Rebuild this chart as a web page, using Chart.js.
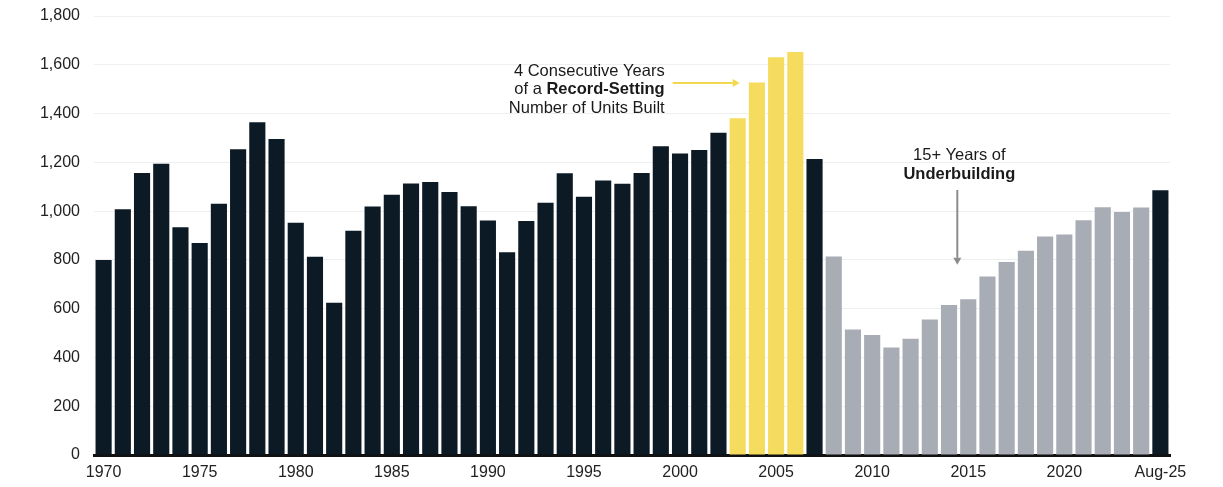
<!DOCTYPE html>
<html>
<head>
<meta charset="utf-8">
<script src="https://cdn.jsdelivr.net/npm/chart.js@4/dist/chart.umd.min.js"></script>
<style>
    html, body { margin: 0; padding: 0; background: #ffffff; }
    #wrap { position: relative; width: 1223px; height: 487px; }
</style>
</head>
<body>
<div id="wrap"><canvas id="chart"></canvas></div>
<script>
// Units built per year (thousands)
const categories = [
    '1970', '1971', '1972', '1973', '1974', '1975', '1976', '1977', '1978', '1979',
    '1980', '1981', '1982', '1983', '1984', '1985', '1986', '1987', '1988', '1989',
    '1990', '1991', '1992', '1993', '1994', '1995', '1996', '1997', '1998', '1999',
    '2000', '2001', '2002', '2003', '2004', '2005', '2006', '2007', '2008', '2009',
    '2010', '2011', '2012', '2013', '2014', '2015', '2016', '2017', '2018', '2019',
    '2020', '2021', '2022', '2023', '2024', 'Aug-25'
];
const unitsBuilt = [
    800, 1008, 1156, 1194, 934, 869, 1030, 1254, 1364, 1296,
    952, 813, 624, 919, 1019, 1067, 1113, 1119, 1078, 1020,
    962, 831, 959, 1034, 1155, 1059, 1126, 1112, 1156, 1266,
    1236, 1251, 1321, 1381, 1527, 1631, 1652, 1214, 814, 515,
    492, 441, 477, 556, 615, 639, 732, 791, 837, 896,
    904, 963, 1016, 996, 1015, 1086
];
const recordYears = ['2003', '2004', '2005', '2006'];
const underbuildYears = [
    '2008', '2009', '2010', '2011', '2012', '2013', '2014', '2015', '2016',
    '2017', '2018', '2019', '2020', '2021', '2022', '2023', '2024'
];
const yTicks = [0, 200, 400, 600, 800, 1000, 1200, 1400, 1600, 1800];

const DARK = '#0c1a25';
const YELLOW = '#f6dc5e';
const GREY = '#a8acb4';
const FONT = '"Liberation Sans", Arial, sans-serif';

function barColor(label) {
    if (recordYears.indexOf(label) !== -1) return YELLOW;
    if (underbuildYears.indexOf(label) !== -1) return GREY;
    return DARK;
}

function arrow(ctx, x1, y1, x2, y2, color) {
    const ang = Math.atan2(y2 - y1, x2 - x1);
    const head = 7;
    ctx.save();
    ctx.strokeStyle = color;
    ctx.fillStyle = color;
    ctx.lineWidth = 2;
    ctx.beginPath();
    ctx.moveTo(x1, y1);
    ctx.lineTo(x2 - Math.cos(ang) * head, y2 - Math.sin(ang) * head);
    ctx.stroke();
    ctx.beginPath();
    ctx.moveTo(x2, y2);
    ctx.lineTo(x2 - head * Math.cos(ang) + 4 * Math.sin(ang), y2 - head * Math.sin(ang) - 4 * Math.cos(ang));
    ctx.lineTo(x2 - head * Math.cos(ang) - 4 * Math.sin(ang), y2 - head * Math.sin(ang) + 4 * Math.cos(ang));
    ctx.closePath();
    ctx.fill();
    ctx.restore();
}

const annotations = {
    id: 'annotations',
    afterDraw: function (chart) {
        const ctx = chart.ctx;
        const x = chart.scales.x;
        const y = chart.scales.y;
        const step = x.getPixelForValue(1) - x.getPixelForValue(0);

        // record-setting note
        const recX = x.getPixelForValue(categories.indexOf('2003'));
        const textRight = recX - 73;
        const y0 = y.getPixelForValue(1574);
        ctx.save();
        ctx.fillStyle = '#1a1a1a';
        ctx.textAlign = 'right';
        ctx.textBaseline = 'middle';
        ctx.font = '16.5px ' + FONT;
        ctx.fillText('4 Consecutive Years', textRight, y0);
        const boldPart = 'Record-Setting';
        ctx.font = 'bold 16.5px ' + FONT;
        const bw = ctx.measureText(boldPart).width;
        ctx.fillText(boldPart, textRight, y0 + 18.5);
        ctx.font = '16.5px ' + FONT;
        ctx.fillText('of a ', textRight - bw, y0 + 18.5);
        ctx.fillText('Number of Units Built', textRight, y0 + 37);
        ctx.restore();
        arrow(ctx, textRight + 8, y0 + 12, recX + 2, y0 + 12, '#f2d84c');

        // underbuilding note
        const ubX = x.getPixelForValue(categories.indexOf('2014')) + step * 0.43;
        const y1 = y.getPixelForValue(1230);
        ctx.save();
        ctx.fillStyle = '#1a1a1a';
        ctx.textAlign = 'center';
        ctx.textBaseline = 'middle';
        ctx.font = '16.5px ' + FONT;
        ctx.fillText('15+ Years of', ubX + 2, y1);
        ctx.font = 'bold 16.5px ' + FONT;
        ctx.fillText('Underbuilding', ubX + 2, y1 + 19);
        ctx.restore();
        arrow(ctx, ubX, y1 + 35, ubX, y.getPixelForValue(780), '#8c8c8c');
    }
};

new Chart(document.getElementById('chart'), {
    type: 'bar',
    data: {
        labels: categories,
        datasets: [{
            data: unitsBuilt,
            backgroundColor: categories.map(barColor),
            borderWidth: 0,
            categoryPercentage: 1,
            barPercentage: 0.84
        }]
    },
    options: {
        responsive: true,
        maintainAspectRatio: false,
        animation: false,
        layout: {
            padding: { top: 16, right: 53, bottom: 0, left: 0 }
        },
        plugins: {
            legend: { display: false },
            tooltip: { enabled: false }
        },
        scales: {
            x: {
                grid: { display: false, drawTicks: false },
                border: { color: '#111111', width: 3 },
                afterFit: function (scale) { scale.height = 32; },
                ticks: {
                    autoSkip: false,
                    maxRotation: 0,
                    padding: 8,
                    color: '#222222',
                    font: { family: FONT, size: 16 },
                    callback: function (value, index) {
                        const label = categories[index];
                        if (index === categories.length - 1) return label;
                        return Number(label) % 5 === 0 ? label : '';
                    }
                }
            },
            y: {
                min: 0,
                max: 1800,
                afterFit: function (scale) {
                    scale.width = 94;
                    scale.paddingTop = 0;
                    scale.paddingBottom = 0;
                },
                afterBuildTicks: function (scale) {
                    scale.ticks = yTicks.map(function (v) { return { value: v }; });
                },
                grid: { color: '#efefef', drawTicks: false },
                border: { display: false },
                ticks: {
                    padding: 14,
                    color: '#222222',
                    font: { family: FONT, size: 16 },
                    callback: function (value) {
                        return value.toLocaleString('en-US');
                    }
                }
            }
        }
    },
    plugins: [annotations]
});
</script>
</body>
</html>
